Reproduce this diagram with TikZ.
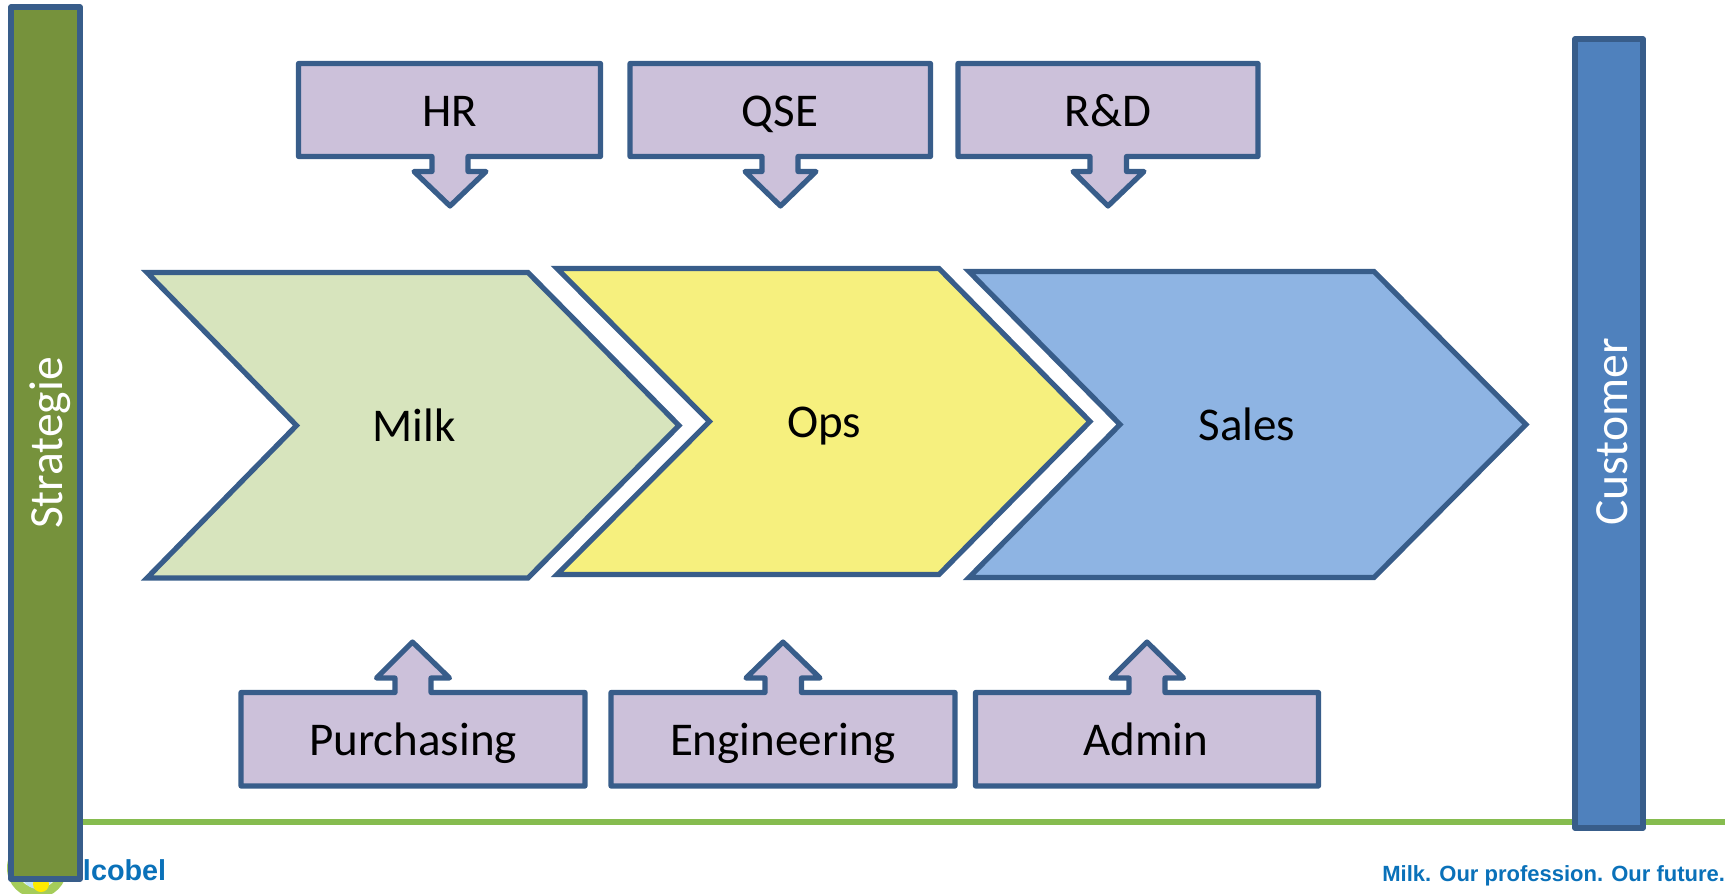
\documentclass[tikz,border=0pt]{standalone}
\usepackage{fontspec}
\setmainfont{Carlito}
\newfontfamily\brandfont{Liberation Sans}[Scale=1]
\definecolor{edgeblue}{HTML}{385D8A}
\definecolor{boxpurple}{HTML}{CCC1DA}
\definecolor{milkgreen}{HTML}{D7E4BD}
\definecolor{opsyellow}{HTML}{F6F07E}
\definecolor{salesblue}{HTML}{8EB4E3}
\definecolor{stratgreen}{HTML}{76923C}
\definecolor{custblue}{HTML}{4F81BD}
\definecolor{rulegreen}{HTML}{86BC4F}
\definecolor{brandblue}{HTML}{0A71B9}
\definecolor{logogreen}{HTML}{A5CC5A}
\definecolor{logosky}{HTML}{BFE0F2}
\definecolor{logoyellow}{HTML}{FFEB00}
\tikzset{
  shapeline/.style={draw=edgeblue,line width=2.6pt,line join=round},
  support/.style={shapeline,fill=boxpurple},
  chevron/.style={draw=edgeblue,line width=2.6pt,line join=miter,miter limit=10},
  bar/.style={shapeline},
  txt/.style={inner sep=0pt,outer sep=0pt,anchor=base,text=black,font=\fontsize{23.5}{28}\selectfont},
  bartxt/.style={inner sep=0pt,outer sep=0pt,anchor=base,text=white,rotate=90,font=\fontsize{23.8}{28}\selectfont},
  brand/.style={inner sep=0pt,outer sep=0pt,text=brandblue}
}
\begin{document}
\begin{tikzpicture}[x=0.5pt,y=-0.5pt]
\useasboundingbox (0,0) rectangle (1731,894);
% footer
\fill[rulegreen] (70,819) rectangle (1725,825);
\begin{scope}
\clip (0,0) rectangle (1731,894);
\fill[logogreen] (37,868) circle (30);
\fill[white] (38,866) circle (22);
\fill[logosky] (38,872) circle (17);
\fill[logoyellow] (41,884) circle (8);
\end{scope}
\node[brand,anchor=base west,font=\brandfont\bfseries\fontsize{14.4}{17}\selectfont] (logotext) at (83,880) {lcobel};
\node[brand,anchor=base east,font=\brandfont\bfseries\fontsize{11}{14}\selectfont] (tagline) at (1725,881.5) {Milk. Our profession. Our future.};
% side bars
\draw[bar,fill=stratgreen] (11,7) rectangle (80,879);
\draw[bar,fill=custblue] (1575,39) rectangle (1643,828);
\node[bartxt] (strategie) at (62,443) {Strategie};
\node[bartxt] (customer) at (1627,432) {Customer};
% top supports
\draw[support] (298.5,63.5) -- (600.5,63.5) -- (600.5,156.5) -- (468,156.5) -- (468,171.5) -- (486,171.5) -- (450,206) -- (414,171.5) -- (432,171.5) -- (432,156.5) -- (298.5,156.5) -- cycle;
\draw[support] (630,63.5) -- (930.5,63.5) -- (930.5,156.5) -- (798,156.5) -- (798,171.5) -- (816,171.5) -- (780.5,206) -- (745,171.5) -- (762,171.5) -- (762,156.5) -- (630,156.5) -- cycle;
\draw[support] (958,63.5) -- (1258,63.5) -- (1258,156.5) -- (1126.5,156.5) -- (1126.5,171.5) -- (1144,171.5) -- (1108,206) -- (1073,171.5) -- (1090,171.5) -- (1090,156.5) -- (958,156.5) -- cycle;
\node[txt] (hr) at (450,126) {HR};
\node[txt] (qse) at (780,126) {QSE};
\node[txt] (rd) at (1108,126) {R\&D};
% value chain
\draw[chevron,fill=milkgreen] (147,272.5) -- (528,272.5) -- (679,425.5) -- (528,578) -- (147,578) -- (296.5,425.5) -- cycle;
\draw[chevron,fill=opsyellow] (557,268.5) -- (939,268.5) -- (1090,421.5) -- (939,574.5) -- (557,574.5) -- (709.5,421.5) -- cycle;
\draw[chevron,fill=salesblue] (969,271.5) -- (1374,271.5) -- (1526,424.5) -- (1374,577.5) -- (969,577.5) -- (1120,424.5) -- cycle;
\node[txt] (milk) at (414,441.5) {Milk};
\node[txt] (ops) at (824,437.5) {Ops};
\node[txt] (sales) at (1247,440.5) {Sales};
% bottom supports
\draw[support] (241,692.5) -- (395,692.5) -- (395,678) -- (376.5,678) -- (412.5,642) -- (449.5,678) -- (431,678) -- (431,692.5) -- (585,692.5) -- (585,786) -- (241,786) -- cycle;
\draw[support] (611,692.5) -- (765,692.5) -- (765,678) -- (746,678) -- (783,642) -- (820,678) -- (801.5,678) -- (801.5,692.5) -- (955,692.5) -- (955,786) -- (611,786) -- cycle;
\draw[support] (975.5,692.5) -- (1129,692.5) -- (1129,678) -- (1111,678) -- (1147,642) -- (1183.5,678) -- (1165,678) -- (1165,692.5) -- (1318.5,692.5) -- (1318.5,786) -- (975.5,786) -- cycle;
\node[txt] (purchasing) at (413,755) {Purchasing};
\node[txt] (engineering) at (783,755) {Engineering};
\node[txt] (admin) at (1146,755) {Admin};
\end{tikzpicture}
\end{document}
